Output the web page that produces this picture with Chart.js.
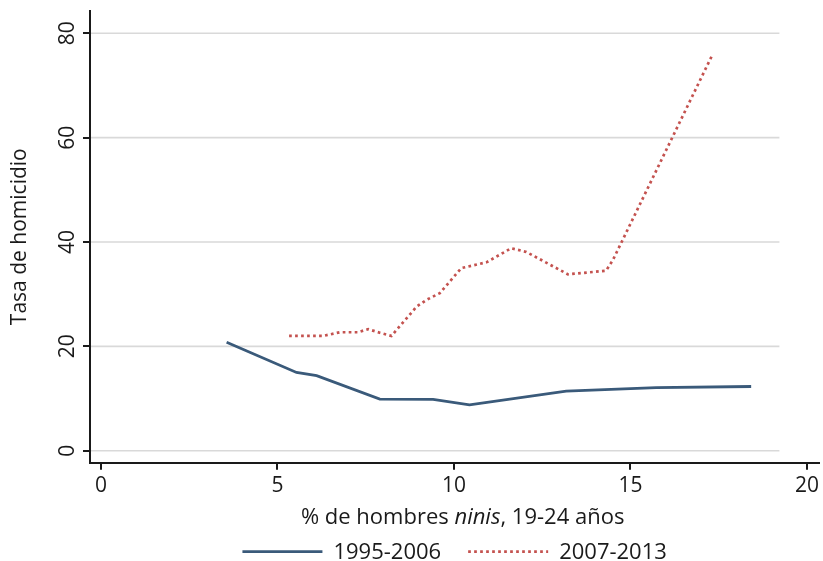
<!DOCTYPE html>
<html>
<head>
<meta charset="utf-8">
<script src="https://cdn.jsdelivr.net/npm/chart.js@4"></script>
<style>
  html, body { margin: 0; padding: 0; background: #ffffff; }
  canvas { display: block; }
</style>
</head>
<body>
<canvas id="c" width="823" height="561"></canvas>
<script>
// ---- Data ----
const seriesLabels = ['1995-2006', '2007-2013'];

const x1995 = [3.56, 5.54, 6.11, 7.90, 9.41, 10.44, 13.18, 15.73, 18.42];
const y1995 = [20.8, 15.0, 14.4, 9.9, 9.85, 8.8, 11.4, 12.1, 12.3];

const x2007 = [5.33, 6.29, 6.77, 7.28, 7.57, 7.90, 8.23, 8.94, 9.22, 9.60, 10.21, 10.92, 11.62, 12.05, 13.23, 14.31, 14.50, 17.33];
const y2007 = [22.0, 22.0, 22.7, 22.7, 23.3, 22.6, 22.0, 27.6, 28.9, 30.2, 35.0, 36.1, 38.8, 38.1, 33.8, 34.5, 36.5, 76.0];

const xTicks = [0, 5, 10, 15, 20];
const xTickLabels = ['0', '5', '10', '15', '20'];
const yTicks = [0, 20, 40, 60, 80];
const yTickLabels = ['0', '20', '40', '60', '80'];

const xTitleParts = [
  { text: '% de hombres ', italic: false },
  { text: 'ninis', italic: true },
  { text: ', 19-24 años', italic: false }
];
const yTitle = 'Tasa de homicidio';

// ---- Styles ----
const FONT = '"Open Sans", "Liberation Sans", sans-serif';
const TEXT = '#1a1a1a';
const BLUE = '#3a5a7a';
const RED = '#c4524f';
const GRID = '#d9d9d9';

function pts(xs, ys) { return xs.map((x, i) => ({ x: x, y: ys[i] })); }

const extrasPlugin = {
  id: 'extras',
  beforeDatasetsDraw(chart) {
    const ctx = chart.ctx;
    const xs = chart.scales.x, ys = chart.scales.y;
    const ca = chart.chartArea;
    // horizontal grid lines (end short of the axis, as in the reference)
    ctx.save();
    ctx.strokeStyle = GRID;
    ctx.lineWidth = 1.6;
    const xEnd = xs.getPixelForValue(19.22);
    yTicks.forEach(v => {
      const y = ys.getPixelForValue(v);
      ctx.beginPath();
      ctx.moveTo(ca.left + 1, y);
      ctx.lineTo(xEnd, y);
      ctx.stroke();
    });
    ctx.restore();
  },
  afterDraw(chart) {
    const ctx = chart.ctx;
    const xs = chart.scales.x, ys = chart.scales.y;
    const ca = chart.chartArea;
    ctx.save();
    ctx.fillStyle = TEXT;
    // rotated y tick labels
    ctx.font = '21px ' + FONT;
    ctx.textAlign = 'center';
    ctx.textBaseline = 'middle';
    yTicks.forEach((v, i) => {
      const y = ys.getPixelForValue(v);
      ctx.save();
      ctx.translate(ca.left - 22, y);
      ctx.rotate(-Math.PI / 2);
      ctx.fillText(yTickLabels[i], 0, 0);
      ctx.restore();
    });
    // x axis title with italic part
    const fontN = '22px ' + FONT;
    const fontI = 'italic 22px ' + FONT;
    let total = 0;
    xTitleParts.forEach(p => { ctx.font = p.italic ? fontI : fontN; total += ctx.measureText(p.text).width; });
    let x = (ca.left + ca.right) / 2 + 8 - total / 2;
    const yT = ca.bottom + 55;
    ctx.textAlign = 'left';
    xTitleParts.forEach(p => {
      ctx.font = p.italic ? fontI : fontN;
      ctx.fillText(p.text, x, yT);
      x += ctx.measureText(p.text).width;
    });
    // legend
    const sampleW = 80, gapT = 11, itemGap = 27;
    ctx.font = '22px ' + FONT;
    const widths = chart.data.datasets.map(d => sampleW + gapT + ctx.measureText(d.label).width);
    const legW = widths.reduce((a, b) => a + b, 0) + itemGap * (widths.length - 1);
    let lx = (ca.left + ca.right) / 2 - legW / 2;
    const ly = ca.bottom + 89;
    chart.data.datasets.forEach((d, i) => {
      ctx.save();
      ctx.strokeStyle = d.borderColor;
      ctx.lineWidth = d.borderWidth;
      ctx.setLineDash(d.borderDash || []);
      ctx.lineCap = 'butt';
      ctx.beginPath();
      ctx.moveTo(lx, ly);
      ctx.lineTo(lx + sampleW, ly);
      ctx.stroke();
      ctx.restore();
      ctx.fillStyle = TEXT;
      ctx.textBaseline = 'middle';
      ctx.fillText(d.label, lx + sampleW + gapT, ly + 1);
      lx += widths[i] + itemGap;
    });
    ctx.restore();
  }
};

new Chart(document.getElementById('c'), {
  type: 'line',
  data: {
    datasets: [
      {
        label: seriesLabels[0],
        data: pts(x1995, y1995),
        borderColor: BLUE,
        borderWidth: 2.8,
        pointRadius: 0,
        tension: 0,
        fill: false
      },
      {
        label: seriesLabels[1],
        data: pts(x2007, y2007),
        borderColor: RED,
        borderWidth: 2.7,
        borderDash: [2.7, 3.3],
        borderCapStyle: 'butt',
        pointRadius: 0,
        tension: 0,
        fill: false
      }
    ]
  },
  options: {
    responsive: false,
    animation: false,
    devicePixelRatio: 1,
    layout: { padding: { top: 10.7, right: 3, left: 0, bottom: 0 } },
    plugins: {
      legend: { display: false },
      tooltip: { enabled: false }
    },
    scales: {
      x: {
        type: 'linear',
        min: -0.31,
        max: 20.35,
        afterBuildTicks: (s) => { s.ticks = xTicks.map(v => ({ value: v })); },
        afterFit: (s) => { s.height = 98.3; },
        ticks: {
          callback: (v) => { const i = xTicks.indexOf(v); return i >= 0 ? xTickLabels[i] : ''; },
          font: { family: FONT, size: 21 },
          color: TEXT,
          padding: 4,
          maxRotation: 0
        },
        grid: { drawOnChartArea: false, drawTicks: true, tickLength: 7, color: TEXT, lineWidth: 2 },
        border: { display: true, color: TEXT, width: 2 }
      },
      y: {
        type: 'linear',
        min: -2.3,
        max: 84.33,
        afterBuildTicks: (s) => { s.ticks = yTicks.map(v => ({ value: v })); },
        afterFit: (s) => { s.width = 90; },
        ticks: { display: false },
        title: {
          display: true,
          text: yTitle,
          font: { family: FONT, size: 21 },
          color: TEXT,
          padding: { top: 7, bottom: 0 }
        },
        grid: { drawOnChartArea: false, drawTicks: true, tickLength: 7, color: TEXT, lineWidth: 2 },
        border: { display: true, color: TEXT, width: 2 }
      }
    }
  },
  plugins: [extrasPlugin]
});
</script>
</body>
</html>
